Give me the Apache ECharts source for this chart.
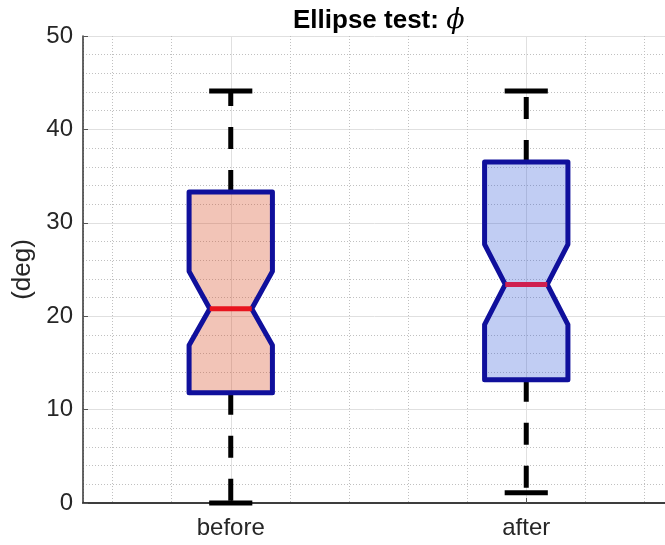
<!DOCTYPE html>
<html>
<head>
	<meta charset="utf-8">
	<title>Ellipse test</title>
	<style type="text/css">
		html, body { margin: 0; padding: 0; background: #fff; }
		#main { width: 665px; height: 545px; }
	</style>
	<script src="https://cdn.jsdelivr.net/npm/echarts@6/dist/echarts.min.js"></script>
</head>
<body>
	<div id="main"></div>

	<script type="text/javascript">
		// box statistics (deg)
		var categories = ['before', 'after'];
		var positions = [1, 2];
		var whiskerLow = [0.0, 1.1];
		var q1 = [11.8, 13.2];
		var notchLow = [16.9, 19.1];
		var median = [20.8, 23.4];
		var notchHigh = [24.8, 27.7];
		var q3 = [33.3, 36.5];
		var whiskerHigh = [44.1, 44.1];
		var yTicks = [0, 10, 20, 30, 40, 50];

		var fillColors = ['rgba(215, 75, 35, 0.33)', 'rgba(50, 90, 215, 0.30)'];
		var medianColors = ['#e8141e', '#cf2050'];
		var edgeColor = '#10109c';

		var BOX = 0.141, NOTCH = 0.071, CAP = 0.073;

		var rows = [];
		for (var i = 0; i < categories.length; i++) {
			rows.push([positions[i], whiskerLow[i], q1[i], notchLow[i], median[i], notchHigh[i], q3[i], whiskerHigh[i]]);
		}

		function renderItem(params, api) {
			var x = api.value(0);
			var c = params.dataIndex;
			function pt(dx, v) { return api.coord([x + dx, v]); }
			var lo = api.value(1), b1 = api.value(2), n1 = api.value(3), md = api.value(4),
				n2 = api.value(5), b3 = api.value(6), hi = api.value(7);
			var whisk = { stroke: '#000', lineWidth: 5, lineDash: [22, 21], lineCap: 'butt' };
			var cap = { stroke: '#000', lineWidth: 5 };
			function seg(a, b, st) {
				return { type: 'line', shape: { x1: a[0], y1: a[1], x2: b[0], y2: b[1] }, style: st };
			}
			var outline = [
				pt(-BOX, b1), pt(BOX, b1), pt(BOX, n1), pt(NOTCH, md), pt(BOX, n2),
				pt(BOX, b3), pt(-BOX, b3), pt(-BOX, n2), pt(-NOTCH, md), pt(-BOX, n1)
			];
			return {
				type: 'group',
				children: [
					seg(pt(0, b3), pt(0, hi), whisk),
					seg(pt(0, b1), pt(0, lo), whisk),
					seg(pt(-CAP, hi), pt(CAP, hi), cap),
					seg(pt(-CAP, lo), pt(CAP, lo), cap),
					{
						type: 'polygon',
						shape: { points: outline },
						style: { fill: fillColors[c], stroke: edgeColor, lineWidth: 5, lineJoin: 'round' }
					},
					seg(pt(-NOTCH, md), pt(NOTCH, md), { stroke: medianColors[c], lineWidth: 5 })
				]
			};
		}

		var labelColor = '#262626';
		var chart = echarts.init(document.getElementById('main'));
		var option = {
			animation: false,
			title: {
				text: '{t|Ellipse test: }{p|\u03d5}',
				left: 288,
				top: 2,
				textStyle: {
					rich: {
						t: { fontFamily: 'Liberation Sans', fontWeight: 'bold', fontSize: 26, color: '#000' },
						p: { fontFamily: 'DejaVu Serif', fontStyle: 'italic', fontWeight: 'normal', fontSize: 27, color: '#000' }
					}
				}
			},
			grid: { left: 83, top: 36, width: 591, height: 467, outerBoundsMode: 'none', containLabel: false },
			xAxis: [
				{
					// dotted minor grid and top border
					type: 'value', min: 0.5, max: 2.5, splitNumber: 10, position: 'top',
					axisLine: { show: true, lineStyle: { color: '#333', width: 1.5 } },
					axisTick: { show: false },
					axisLabel: { show: false },
					splitLine: { show: true, lineStyle: { type: [1, 2], color: '#c0c0c0' } }
				},
				{
					type: 'value', min: 0.5, max: 2.5, position: 'bottom',
					axisLine: { show: true, lineStyle: { color: '#333', width: 1.5 } },
					axisTick: { show: true, inside: true, length: 5, customValues: positions, lineStyle: { color: '#555' } },
					axisLabel: {
						customValues: positions,
						margin: 13,
						color: labelColor,
						fontFamily: 'Liberation Sans',
						fontSize: 24,
						formatter: function (v) { return categories[Math.round(v) - 1]; }
					},
					splitLine: { show: true, lineStyle: { color: '#e0e0e0' } }
				}
			],
			yAxis: {
				type: 'value', min: 0, max: 50, interval: 10,
				name: '(deg)',
				nameLocation: 'middle',
				nameGap: 46,
				nameTextStyle: { fontFamily: 'Liberation Sans', fontSize: 26, color: labelColor },
				axisLine: { show: true, lineStyle: { color: '#333', width: 1.5 } },
				axisTick: { show: true, inside: true, length: 5, lineStyle: { color: '#555' } },
				axisLabel: {
					margin: 10,
					color: labelColor,
					fontFamily: 'Liberation Sans',
					fontSize: 24,
					customValues: yTicks
				},
				splitLine: { show: true, lineStyle: { color: '#e0e0e0' } },
				minorTick: { show: false, splitNumber: 5 },
				minorSplitLine: { show: true, lineStyle: { type: [1, 2], color: '#c0c0c0' } }
			},
			series: [{
				type: 'custom',
				xAxisIndex: 1,
				renderItem: renderItem,
				encode: { x: 0, y: [1, 2, 3, 4, 5, 6, 7] },
				data: rows,
				z: 10
			}]
		};

		chart.setOption(option);
	</script>
</body>
</html>
